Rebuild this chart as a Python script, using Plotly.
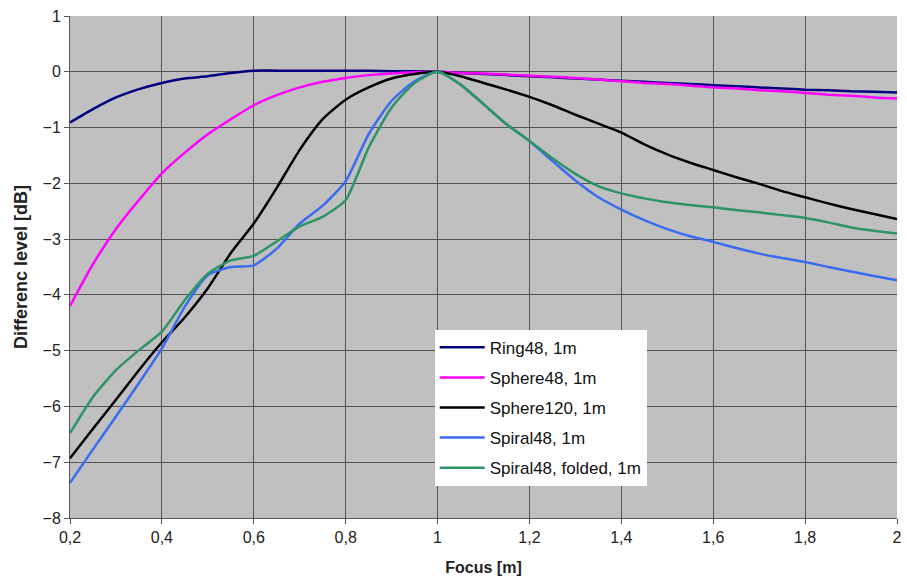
import plotly.graph_objects as go

focus = [0.2, 0.25, 0.3, 0.35, 0.4, 0.45, 0.5, 0.55, 0.6, 0.65, 0.7, 0.75, 0.8, 0.85, 0.9, 0.95, 1.0,
         1.05, 1.1, 1.15, 1.2, 1.25, 1.3, 1.35, 1.4, 1.45, 1.5, 1.55, 1.6, 1.65, 1.7, 1.75, 1.8, 1.85, 1.9, 1.95, 2.0]

ring48 = [-0.91, -0.67, -0.46, -0.31, -0.2, -0.12, -0.08, -0.02, 0.02, 0.02, 0.02, 0.02, 0.02, 0.02, 0.01, 0.01, 0,
          -0.02, -0.04, -0.06, -0.08, -0.1, -0.12, -0.14, -0.16, -0.18, -0.2, -0.22, -0.24, -0.26, -0.28, -0.3, -0.32, -0.33, -0.35, -0.36, -0.37]

sphere48 = [-4.2, -3.45, -2.82, -2.3, -1.82, -1.45, -1.12, -0.85, -0.6, -0.42, -0.28, -0.18, -0.11, -0.06, -0.03, -0.01, 0,
            -0.02, -0.03, -0.05, -0.07, -0.09, -0.11, -0.14, -0.17, -0.2, -0.22, -0.25, -0.28, -0.3, -0.33, -0.35, -0.38, -0.41, -0.43, -0.46, -0.48]

sphere120 = [-6.93, -6.4, -5.88, -5.35, -4.85, -4.4, -3.88, -3.25, -2.72, -2.08, -1.4, -0.85, -0.5, -0.28, -0.12, -0.04, 0,
             -0.08, -0.2, -0.32, -0.45, -0.6, -0.77, -0.93, -1.09, -1.3, -1.48, -1.63, -1.76, -1.89, -2.01, -2.14, -2.25, -2.36, -2.46, -2.55, -2.64]

spiral48 = [-7.37, -6.77, -6.18, -5.58, -4.96, -4.21, -3.65, -3.5, -3.47, -3.17, -2.72, -2.4, -1.96, -1.12, -0.52, -0.17, 0,
            -0.23, -0.58, -0.94, -1.24, -1.6, -1.95, -2.25, -2.47, -2.66, -2.82, -2.95, -3.05, -3.16, -3.26, -3.34, -3.41, -3.5, -3.58, -3.66, -3.74]

spiral48_folded = [-6.48, -5.83, -5.35, -4.99, -4.66, -4.09, -3.62, -3.38, -3.3, -3.04, -2.77, -2.6, -2.3, -1.36, -0.64, -0.2, 0,
                   -0.23, -0.58, -0.94, -1.24, -1.55, -1.83, -2.05, -2.18, -2.27, -2.34, -2.39, -2.43, -2.48, -2.52, -2.57, -2.62, -2.7, -2.79, -2.85, -2.9]

series_names = ["Ring48, 1m", "Sphere48, 1m", "Sphere120, 1m", "Spiral48, 1m", "Spiral48, folded, 1m"]
series_values = [ring48, sphere48, sphere120, spiral48, spiral48_folded]
series_colors = ["#000080", "#ff00ff", "#000000", "#3b6cf0", "#2e9466"]

x_ticks = [0.2, 0.4, 0.6, 0.8, 1.0, 1.2, 1.4, 1.6, 1.8, 2.0]
x_ticklabels = ["0,2", "0,4", "0,6", "0,8", "1", "1,2", "1,4", "1,6", "1,8", "2"]
y_ticks = [1, 0, -1, -2, -3, -4, -5, -6, -7, -8]

fig = go.Figure()
for name, vals, col in zip(series_names, series_values, series_colors):
    fig.add_trace(go.Scatter(
        x=focus, y=vals, name=name, mode="lines",
        line=dict(color=col, width=2.5, shape="spline", smoothing=0.6),
        legendgroup=name,
    ))

font_family = "Liberation Sans, Arial, sans-serif"
fig.update_layout(
    width=907, height=583,
    margin=dict(l=70, r=5, t=16, b=65),
    paper_bgcolor="white",
    plot_bgcolor="#c0c0c0",
    font=dict(family=font_family, size=16, color="#222222"),
    showlegend=True,
    legend=dict(
        x=0.441, y=0.375, xanchor="left", yanchor="top",
        bgcolor="white", borderwidth=0,
        font=dict(size=17, color="#111111"),
        tracegroupgap=5, traceorder="grouped",
        itemwidth=45,
    ),
    xaxis=dict(
        range=[0.2, 2.0], tickvals=x_ticks, ticktext=x_ticklabels,
        showgrid=True, gridcolor="#555555", gridwidth=1,
        showline=True, linecolor="#555555", linewidth=1,
        ticks="outside", ticklen=5, tickcolor="#555555",
        tickfont=dict(size=16),
        zeroline=False,
        title=dict(text="<b>Focus [m]</b>", font=dict(size=16, color="#222222"), standoff=16),
    ),
    yaxis=dict(
        range=[-8, 1], tickvals=y_ticks,
        showgrid=True, gridcolor="#555555", gridwidth=1,
        showline=True, linecolor="#555555", linewidth=1,
        ticks="outside", ticklen=5, tickcolor="#555555",
        tickfont=dict(size=16),
        zeroline=False,
        title=dict(text="<b>Differenc level [dB]</b>", font=dict(size=18, color="#222222"), standoff=10),
    ),
)

fig.write_html("out.html")
